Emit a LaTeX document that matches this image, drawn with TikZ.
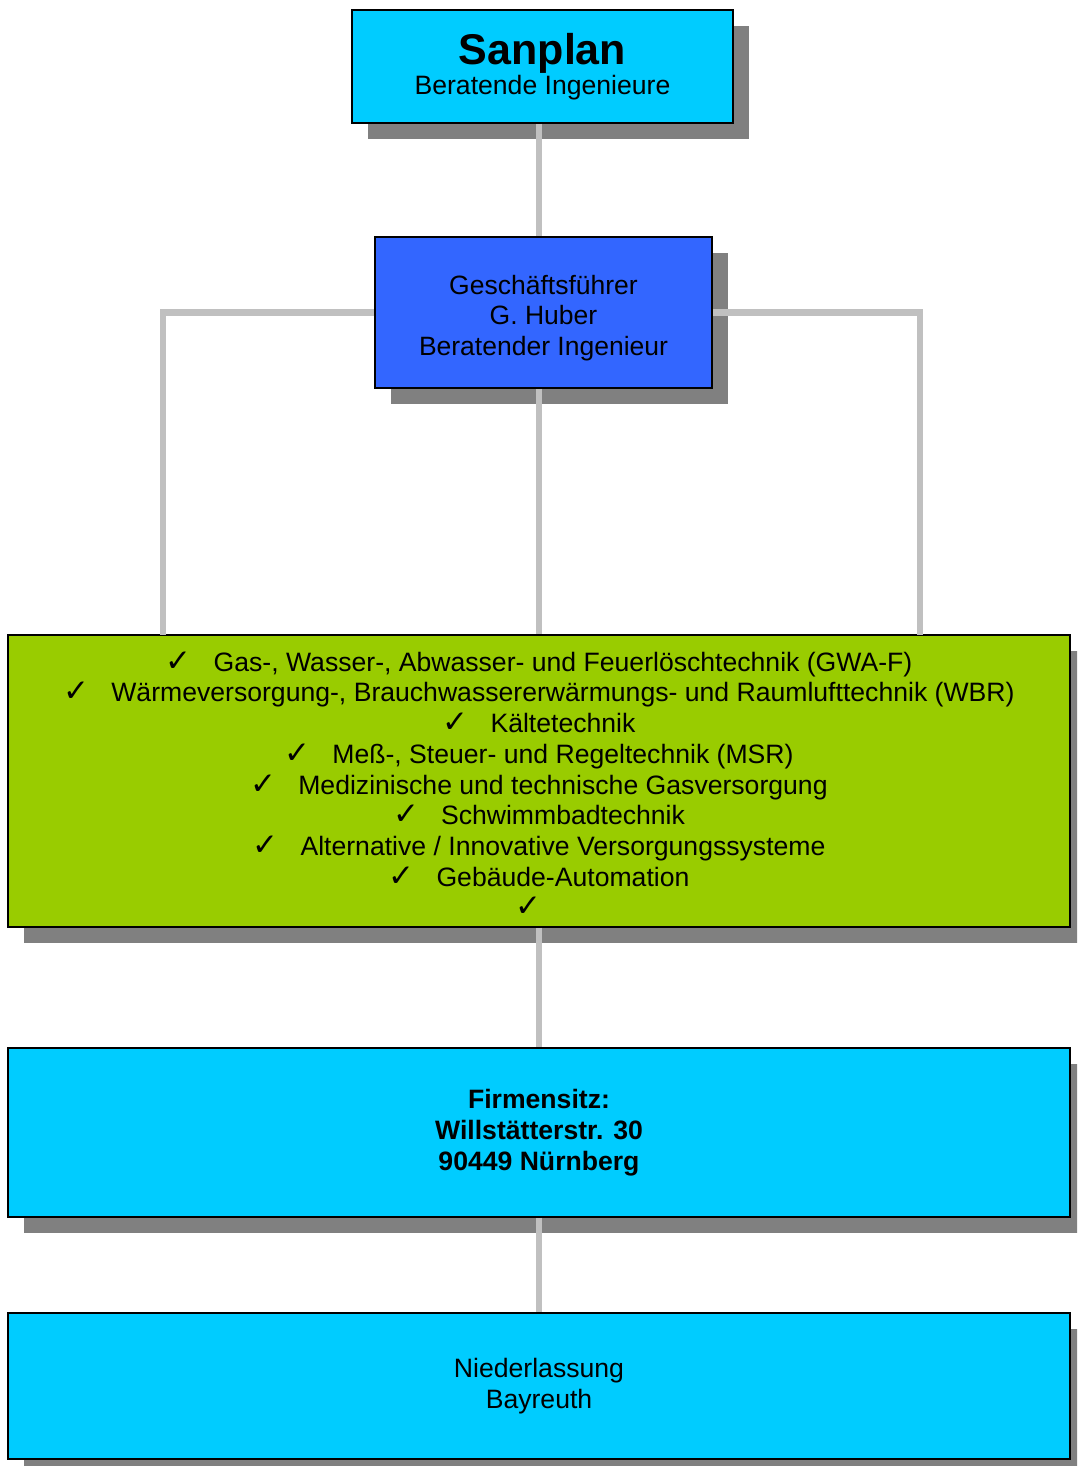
\documentclass[tikz,border=0pt]{standalone}
\usepackage{fontspec}
\setmainfont{Liberation Sans}
\newfontfamily\dvfont{DejaVu Sans}
\usetikzlibrary{shadows}
\definecolor{cyanbox}{HTML}{00CCFF}
\definecolor{bluebox}{HTML}{3366FF}
\definecolor{greenbox}{HTML}{99CC00}
\definecolor{shadowgray}{HTML}{808080}
\definecolor{connline}{HTML}{C0C0C0}
\newcommand{\ck}{{\dvfont\fontsize{31}{30.7}\selectfont\char"2713}}
\newcommand{\cki}[1]{\ck\hspace{22pt}#1}
\begin{document}
\begin{tikzpicture}[x=1pt,y=-1pt,
  box/.style={draw=black, line width=1.8pt, rectangle, inner sep=0pt, align=center, text=black,
    general shadow={fill=shadowgray, shadow xshift=16pt, shadow yshift=-16pt}},
  conn/.style={draw=connline, line width=6.5pt}]
\useasboundingbox (0,0) rectangle (1077,1466);
\clip (0,0) rectangle (1077,1466);

\node[box, fill=cyanbox, minimum width=381pt, minimum height=113pt,
      font=\fontsize{26.6}{31}\selectfont] (top) at (542.5,66.5)
  {{\fontsize{43}{48}\selectfont\bfseries Sanplan}\\[-1pt]Beratende Ingenieure};

\node[box, fill=bluebox, minimum width=337pt, minimum height=151pt,
      font=\fontsize{26.5}{30.7}\selectfont] (gf) at (543.5,312.5)
  {\rule{0pt}{30pt}Geschäftsführer\\G. Huber\\Beratender Ingenieur};

\node[box, fill=greenbox, minimum width=1062pt, minimum height=292pt,
      font=\fontsize{26.6}{30.7}\selectfont] (green) at (539,781)
  {\rule{0pt}{26pt}\cki{Gas-, Wasser-, Abwasser- und Feuerlöschtechnik (GWA-F)}\\
   \cki{Wärmeversorgung-, Brauchwassererwärmungs- und Raumlufttechnik (WBR)}\\
   \cki{Kältetechnik}\\
   \cki{Meß-, Steuer- und Regeltechnik (MSR)}\\
   \cki{Medizinische und technische Gasversorgung}\\
   \cki{Schwimmbadtechnik}\\
   \cki{Alternative / Innovative Versorgungssysteme}\\
   \cki{Gebäude-Automation}\\
   \ck\hspace*{22pt}\mbox{}};

\node[box, fill=cyanbox, minimum width=1062pt, minimum height=169pt,
      font=\fontsize{26.6}{31}\selectfont\bfseries] (firm) at (539,1132.5)
  {Firmensitz:\\Willstätterstr. 30\\90449 Nürnberg};

\node[box, fill=cyanbox, minimum width=1062pt, minimum height=146pt,
      font=\fontsize{26.6}{31}\selectfont] (nied) at (539,1386)
  {Niederlassung\\Bayreuth};

\coordinate (gl) at (163,635);
\coordinate (gr) at (920,635);

\draw[conn] (top.south -| green.north) -- (gf.north -| green.north);
\draw[conn] (gf.west) -| (gl);
\draw[conn] (gf.east) -| (gr);
\draw[conn] (gf.south -| green.north) -- (green.north);
\draw[conn] (green.south) -- (firm.north);
\draw[conn] (firm.south) -- (nied.north);
\end{tikzpicture}
\end{document}
